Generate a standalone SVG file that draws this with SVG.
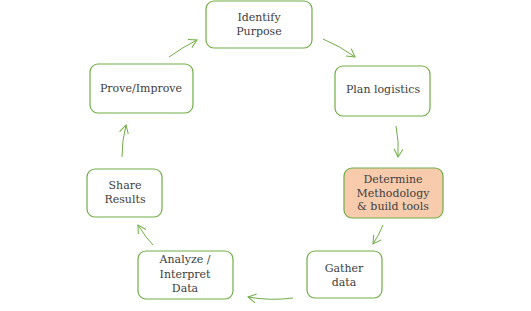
<svg xmlns="http://www.w3.org/2000/svg" width="531" height="311" viewBox="0 0 531 311">
<style>
.box{fill:#fff;stroke:#70ad47;stroke-width:1.2}
.hl{fill:#f8cbad}
text{font-family:"DejaVu Serif","Liberation Serif",serif;font-size:11px;fill:#404040;text-anchor:middle}
.c{fill:none;stroke:#70ad47;stroke-width:1;marker-end:url(#ah)}
</style>
<defs>
<marker id="ah" viewBox="0 0 10 10" refX="9" refY="5" markerWidth="10" markerHeight="10" markerUnits="userSpaceOnUse" orient="auto">
<path d="M1,0.5 L9,5 L1,9.5" fill="none" stroke="#70ad47" stroke-width="1"/>
</marker>
</defs>
<rect width="531" height="311" fill="#fff"/>
<g id="connectors">
<path class="c" d="M323,39 Q340,46 355,57"/>
<path class="c" d="M396,126 Q399,141 398,157"/>
<path class="c" d="M383,225 Q379,235 373,244"/>
<path class="c" d="M293,298 Q270,301 248,297"/>
<path class="c" d="M153,245 Q146,238 138,225"/>
<path class="c" d="M122,157 Q122,140 126,125"/>
<path class="c" d="M169,57 Q183,47 197,40"/>
</g>
<g id="identify">
<rect class="box" x="206" y="1" width="106" height="47" rx="8"/>
<text x="259" y="21">Identify</text>
<text x="259" y="35">Purpose</text>
</g>
<g id="plan">
<rect class="box" x="335" y="66" width="95" height="50" rx="8"/>
<text x="383" y="93">Plan logistics</text>
</g>
<g id="determine">
<rect class="box hl" x="344" y="168" width="99" height="50" rx="8"/>
<text x="393" y="183">Determine</text>
<text x="393" y="197">Methodology</text>
<text x="393" y="210">&amp; build tools</text>
</g>
<g id="gather">
<rect class="box" x="307" y="251" width="75" height="47" rx="8"/>
<text x="344" y="272">Gather</text>
<text x="344" y="286">data</text>
</g>
<g id="analyze">
<rect class="box" x="138" y="251" width="95" height="48" rx="8"/>
<text x="185" y="263">Analyze /</text>
<text x="185" y="278">Interpret</text>
<text x="185" y="292">Data</text>
</g>
<g id="share">
<rect class="box" x="87" y="169" width="75" height="48" rx="8"/>
<text x="125" y="189">Share</text>
<text x="125" y="203">Results</text>
</g>
<g id="prove">
<rect class="box" x="90" y="64" width="103" height="49" rx="8"/>
<text x="141" y="92">Prove/Improve</text>
</g>
</svg>
